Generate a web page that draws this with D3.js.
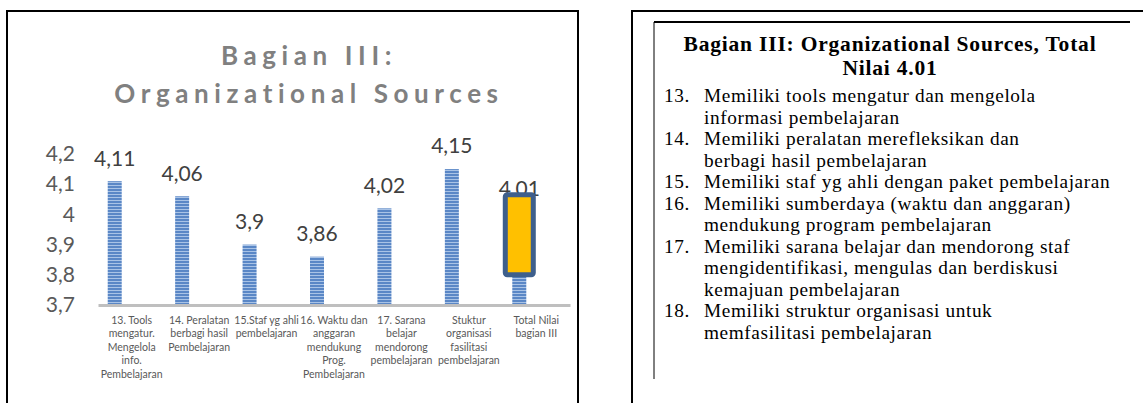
<!DOCTYPE html>
<html>
<head>
<meta charset="utf-8">
<script src="https://cdn.jsdelivr.net/npm/d3@7"></script>
<style>
  body { margin: 0; background: #fff; }
</style>
</head>
<body>
<div id="chart"></div>
<script>
// ---------- data ----------
const categories = [
  ["13. Tools", "mengatur.", "Mengelola", "info.", "Pembelajaran"],
  ["14. Peralatan", "berbagi hasil", "Pembelajaran"],
  ["15.Staf yg ahli", "pembelajaran"],
  ["16. Waktu dan", "anggaran", "mendukung", "Prog.", "Pembelajaran"],
  ["17. Sarana", "belajar", "mendorong", "pembelajaran"],
  ["Stuktur", "organisasi", "fasilitasi", "pembelajaran"],
  ["Total Nilai", "bagian III"]
];
const values = [4.11, 4.06, 3.9, 3.86, 4.02, 4.15, 4.01];
const yTicks = [3.7, 3.8, 3.9, 4, 4.1, 4.2];
const highlightRange = [3.8, 4.065]; // orange call-out drawn over the total bar
const titleLines = ["Bagian III:", "Organizational Sources"];

const noteTitle = ["Bagian III: Organizational Sources, Total", "Nilai 4.01"];
const noteNumbers = ["13.", "14.", "15.", "16.", "17.", "18."];
const noteItems = [
  ["Memiliki tools mengatur dan mengelola", "informasi pembelajaran"],
  ["Memiliki peralatan merefleksikan dan", "berbagi hasil pembelajaran"],
  ["Memiliki staf yg ahli dengan paket pembelajaran"],
  ["Memiliki sumberdaya (waktu dan anggaran)", "mendukung program pembelajaran"],
  ["Memiliki sarana belajar dan mendorong staf", "mengidentifikasi, mengulas dan berdiskusi", "kemajuan pembelajaran"],
  ["Memiliki struktur organisasi untuk", "memfasilitasi pembelajaran"]
];

// ---------- setup ----------
const W = 1143, H = 403;
const svg = d3.select("#chart").append("svg")
  .attr("width", W)
  .attr("height", H)
  .style("display", "block");

svg.append("rect").attr("width", W).attr("height", H).attr("fill", "#fff");

const defs = svg.append("defs");
const pat = defs.append("pattern")
  .attr("id", "stripes")
  .attr("patternUnits", "userSpaceOnUse")
  .attr("width", 6)
  .attr("height", 3);
pat.append("rect").attr("width", 6).attr("height", 3).attr("fill", "#a9c3e6");
pat.append("rect").attr("width", 6).attr("height", 2).attr("fill", "#5a87c6");

const locale = d3.formatLocale({ decimal: ",", thousands: ".", grouping: [3], currency: ["", ""] });
const fmt = locale.format("~g");

// ---------- left panel: chart ----------
svg.append("rect")
  .attr("x", 7).attr("y", 11)
  .attr("width", 571).attr("height", 420)
  .attr("fill", "none")
  .attr("stroke", "#000")
  .attr("stroke-width", 2);

const title = svg.append("text")
  .attr("text-anchor", "middle")
  .style("font-family", "Lato, 'Open Sans', sans-serif")
  .style("font-weight", "bold")
  .style("font-size", "26px")
  .style("letter-spacing", "5.6px")
  .attr("fill", "#808080");
title.selectAll("tspan")
  .data(titleLines)
  .join("tspan")
  .attr("x", 309)
  .attr("y", (d, i) => 65 + i * 38)
  .text(d => d);

const x = d3.scaleBand()
  .domain(d3.range(categories.length))
  .range([98, 570]);

const y = d3.scaleLinear()
  .domain([3.7, 4.2])
  .range([305, 154]);

const barW = 14;
const barShift = -17; // bars sit left of their category label in the original

// y axis labels
const yAxis = svg.append("g")
  .attr("transform", "translate(75,0)")
  .call(d3.axisLeft(y).tickValues(yTicks).tickSize(0).tickPadding(0).tickFormat(fmt));
yAxis.select(".domain").remove();
yAxis.selectAll("text")
  .style("font-family", "Lato, 'Open Sans', sans-serif")
  .style("font-size", "21px")
  .attr("fill", "#595959");

// bars
svg.append("g")
  .selectAll("rect")
  .data(values)
  .join("rect")
  .attr("x", (d, i) => x(i) + x.bandwidth() / 2 + barShift - barW / 2)
  .attr("y", d => y(d))
  .attr("width", barW)
  .attr("height", d => y(3.7) - y(d))
  .attr("fill", "url(#stripes)");

// x axis line
const xAxis = svg.append("g")
  .attr("transform", `translate(0,${y(3.7)})`)
  .call(d3.axisBottom(x).tickSize(0).tickSizeOuter(0).tickFormat(""));
xAxis.select(".domain")
  .attr("stroke", "#bfbfbf")
  .attr("stroke-width", 3);

// category labels
const catG = svg.append("g")
  .style("font-family", "Lato, 'Open Sans', sans-serif")
  .style("font-size", "10.5px")
  .attr("fill", "#595959");
catG.selectAll("text")
  .data(categories)
  .join("text")
  .attr("text-anchor", "middle")
  .each(function (lines, i) {
    d3.select(this).selectAll("tspan")
      .data(lines)
      .join("tspan")
      .attr("x", x(i) + x.bandwidth() / 2)
      .attr("y", (d, j) => 324 + j * 13.4)
      .text(d => d);
  });

// value labels
svg.append("g")
  .selectAll("text")
  .data(values)
  .join("text")
  .attr("x", (d, i) => x(i) + x.bandwidth() / 2 + barShift)
  .attr("y", d => y(d) - 23)
  .attr("dy", "0.35em")
  .attr("text-anchor", "middle")
  .style("font-family", "Lato, 'Open Sans', sans-serif")
  .style("font-size", "21px")
  .attr("fill", "#404040")
  .text(d => fmt(d));

// orange call-out over the total bar
const last = values.length - 1;
svg.append("rect")
  .attr("x", x(last) + x.bandwidth() / 2 + barShift - 14)
  .attr("y", y(highlightRange[1]))
  .attr("width", 28)
  .attr("height", y(highlightRange[0]) - y(highlightRange[1]))
  .attr("rx", 2)
  .attr("fill", "#ffc000")
  .attr("stroke", "#3e5f8c")
  .attr("stroke-width", 5);

// ---------- right panel: notes ----------
svg.append("rect")
  .attr("x", 632).attr("y", 11)
  .attr("width", 540).attr("height", 420)
  .attr("fill", "none")
  .attr("stroke", "#000")
  .attr("stroke-width", 2);

svg.append("line")
  .attr("x1", 654).attr("x2", 1130)
  .attr("y1", 22).attr("y2", 22)
  .attr("stroke", "#000").attr("stroke-width", 2);
svg.append("line")
  .attr("x1", 654).attr("x2", 654)
  .attr("y1", 22).attr("y2", 379)
  .attr("stroke", "#000").attr("stroke-width", 1);

const serif = "'Liberation Serif', 'Times New Roman', serif";

svg.append("text")
  .attr("text-anchor", "middle")
  .style("font-family", serif)
  .style("font-weight", "bold")
  .style("font-size", "21.5px")
  .style("letter-spacing", "0.8px")
  .attr("fill", "#000")
  .selectAll("tspan")
  .data(noteTitle)
  .join("tspan")
  .attr("x", 890)
  .attr("y", (d, i) => 51 + i * 23.5)
  .text(d => d);

const lineH = 21.5;
let row = 0;
const notes = svg.append("g")
  .style("font-family", serif)
  .style("font-size", "19.3px")
  .style("letter-spacing", "0.6px")
  .attr("fill", "#000");
noteItems.forEach((lines, i) => {
  notes.append("text")
    .attr("x", 664)
    .attr("y", 102 + row * lineH)
    .text(noteNumbers[i]);
  lines.forEach(line => {
    notes.append("text")
      .attr("x", 704)
      .attr("y", 102 + row * lineH)
      .text(line);
    row++;
  });
});
</script>
</body>
</html>
